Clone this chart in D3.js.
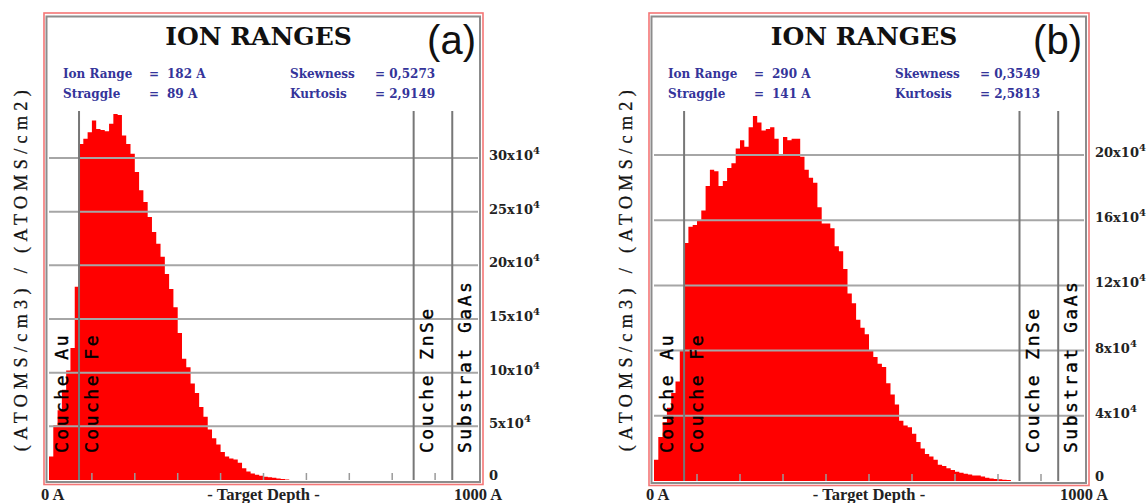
<!DOCTYPE html>
<html>
<head>
<meta charset="utf-8">
<script src="https://cdn.jsdelivr.net/npm/d3@7"></script>
<style>
  body { margin: 0; background: #fff; }
</style>
</head>
<body>
<div id="chart"></div>
<script>
// TRIM histogram bin width (Angstrom)
const binWidth = 10;

// ion distribution, one value per 10 A bin starting at 0 A, in units of 1e4 (atoms/cm3)/(atoms/cm2)
const rangeA = [
  2.2, 5.1, 6.5, 8.4, 10.2, 12.3, 18.0, 31.3, 31.8, 32.4,
  33.5, 32.7, 32.6, 32.5, 33.2, 34.1, 34.0, 32.1, 31.3, 30.4,
  28.7, 27.0, 25.9, 24.5, 23.1, 22.0, 20.8, 19.2, 17.8, 16.1,
  13.7, 11.3, 10.5, 9.0, 8.1, 6.8, 5.9, 4.7, 3.9, 3.3,
  2.6, 2.2, 2.0, 1.9, 1.6, 1.1, 0.8, 0.6, 0.5, 0.4,
  0.3, 0.25, 0.2, 0.15, 0.1, 0.05
];
const rangeB = [
  1.3, 2.7, 3.6, 4.5, 5.4, 6.1, 8.0, 14.6, 15.6, 15.7,
  16.0, 16.6, 18.1, 19.1, 19.0, 18.1, 18.4, 19.2, 19.5, 20.4,
  20.9, 20.5, 21.7, 22.4, 22.0, 21.5, 21.6, 21.7, 21.0, 20.0,
  21.1, 20.9, 21.0, 21.0, 19.9, 19.1, 18.6, 18.3, 16.8, 15.8,
  15.8, 15.5, 14.4, 14.1, 13.0, 11.5, 10.9, 9.9, 9.4, 9.0,
  8.0, 7.6, 7.2, 7.0, 6.0, 5.3, 4.7, 3.7, 3.4, 3.3,
  2.9, 2.4, 2.0, 1.66, 1.5, 1.3, 1.0, 0.92, 0.78, 0.67,
  0.57, 0.5, 0.45, 0.4, 0.33, 0.33, 0.27, 0.2, 0.16, 0.12,
  0.1, 0.08, 0.06
];

// y ticks (x10^4)
const ticksA = [0, 5, 10, 15, 20, 25, 30];
const ticksB = [0, 4, 8, 12, 16, 20];
const depthTicks = [100, 200, 300, 400, 500, 600, 700, 800, 900];

// layers of the target
const layerNames = ["Couche Au", "Couche Fe", "Couche ZnSe", "Substrat GaAs"];
const layerStarts = [0, 70, 850, 940];

const statLabels = ["Ion Range", "Straggle", "Skewness", "Kurtosis"];
const statsA = ["182 A", "89 A", "0,5273", "2,9149"];
const statsB = ["290 A", "141 A", "0,3549", "2,5813"];

const width = 1147, height = 503;
const svg = d3.select("#chart").append("svg")
    .attr("width", width)
    .attr("height", height);

svg.append("rect").attr("width", width).attr("height", height).attr("fill", "#fff");

const serifBold = "'DejaVu Serif', serif";
const statColor = "#34349a";

function drawPanel(p) {
    const g = svg.append("g");
    const x = d3.scaleLinear().domain([0, 1000]).range([p.x0, p.x1]);
    const y = d3.scaleLinear().domain([0, p.yTop]).range([p.yBase, p.yTopPx]);

    // frames
    g.append("rect")
        .attr("x", p.x0 - 5).attr("y", 13)
        .attr("width", p.x1 - p.x0 + 10).attr("height", p.yBase + 4.5 - 13)
        .attr("fill", "none").attr("stroke", "#f47676").attr("stroke-width", 1.6);
    g.append("rect")
        .attr("x", p.x0 - 2.5).attr("y", 16.5)
        .attr("width", p.x1 - p.x0 + 4.5).attr("height", p.yBase + 2 - 16.5)
        .attr("fill", "none").attr("stroke", "#8c8c8c").attr("stroke-width", 2);

    // histogram
    const pts = p.values.map((v, i) => ({d: i * binWidth, v: v}));
    pts.push({d: p.values.length * binWidth, v: 0});
    const area = d3.area()
        .x(d => x(d.d))
        .y0(y(0))
        .y1(d => y(d.v))
        .curve(d3.curveStepAfter);
    g.append("path").datum(pts).attr("d", area).attr("fill", "#ff0000");

    // horizontal grid
    g.selectAll(".grid").data(p.ticks.filter(t => t > 0)).join("line")
        .attr("x1", x(0)).attr("x2", x(1000))
        .attr("y1", d => y(d)).attr("y2", d => y(d))
        .attr("stroke", "#a6a6a6").attr("stroke-width", 2);

    // depth ticks
    g.selectAll(".dtick").data(depthTicks).join("line")
        .attr("x1", d => x(d)).attr("x2", d => x(d))
        .attr("y1", p.yBase).attr("y2", p.yBase - 7)
        .attr("stroke", "#9a9a9a").attr("stroke-width", 1.5);

    // layer boundaries
    g.selectAll(".layer").data(layerStarts.slice(1)).join("line")
        .attr("x1", d => x(d)).attr("x2", d => x(d))
        .attr("y1", 111).attr("y2", p.yBase)
        .attr("stroke", "#777").attr("stroke-width", 2);

    g.selectAll(".lname").data(layerNames).join("text")
        .attr("transform", (d, i) => `translate(${x(layerStarts[i]) + 19},453) rotate(-90)`)
        .attr("font-family", "'DejaVu Sans Mono', monospace")
        .attr("font-size", 18)
        .attr("letter-spacing", 2.5)
        .attr("stroke", "#000").attr("stroke-width", 0.4)
        .attr("fill", "#000")
        .text(d => d);

    // right axis labels
    const lab = g.selectAll(".ylab").data(p.ticks).join("text")
        .attr("x", p.x1 + 11)
        .attr("y", d => d === 0 ? p.yBase : y(d) + 2)
        .attr("font-family", serifBold).attr("font-weight", "bold")
        .attr("font-size", 13).attr("fill", "#222");
    lab.append("tspan").text(d => d === 0 ? "0" : d + "x10");
    lab.filter(d => d > 0).append("tspan")
        .attr("font-size", 10).attr("dy", -6).text("4");

    // bottom labels
    const bottom = g.append("g")
        .attr("font-family", "'Liberation Serif', serif")
        .attr("font-weight", "bold").attr("font-size", 16.5).attr("fill", "#222");
    bottom.append("text").attr("x", x(0) - 8).attr("y", 500).text("0 A");
    bottom.append("text").attr("x", (x(0) + x(1000)) / 2).attr("y", 500)
        .attr("text-anchor", "middle").text("- Target Depth -");
    bottom.append("text").attr("x", x(1000)).attr("y", 500)
        .attr("text-anchor", "middle").text("1000 A");

    // title and tag
    g.append("text")
        .attr("x", (x(0) + x(1000)) / 2 - 5).attr("y", 45)
        .attr("text-anchor", "middle")
        .attr("font-family", serifBold).attr("font-weight", "bold")
        .attr("font-size", 25).attr("fill", "#111")
        .text("ION RANGES");
    g.append("text")
        .attr("x", x(1000) - 2).attr("y", 54)
        .attr("text-anchor", "end")
        .attr("font-family", "'Liberation Sans', Arial, sans-serif")
        .attr("font-size", 40).attr("fill", "#111")
        .text(p.tag);

    // statistics
    const st = g.append("g")
        .attr("font-family", serifBold).attr("font-weight", "bold")
        .attr("font-size", 12).attr("fill", statColor);
    statLabels.forEach((s, i) => {
        const col = i < 2 ? 0 : 1;
        const row = i % 2;
        const yy = 78 + row * 20;
        st.append("text").attr("x", x(0) + (col ? 241 : 14)).attr("y", yy).text(s);
        if (col === 0) {
            st.append("text").attr("x", x(0) + 100).attr("y", yy).text("=");
            st.append("text").attr("x", x(0) + 118).attr("y", yy).text(p.stats[i]);
        } else {
            st.append("text").attr("x", x(0) + 326).attr("y", yy).text("= " + p.stats[i]);
        }
    });

    // left axis title
    g.append("text")
        .attr("transform", `translate(${x(0) - 22},268) rotate(-90)`)
        .attr("text-anchor", "middle")
        .attr("font-family", "'Liberation Serif', serif")
        .attr("font-size", 18).attr("letter-spacing", 5.4)
        .attr("stroke", "#111").attr("stroke-width", 0.3)
        .attr("fill", "#111")
        .text("(ATOMS/cm3) / (ATOMS/cm2)");
}

drawPanel({x0: 49, x1: 478, yBase: 480, yTop: 30, yTopPx: 158,
           values: rangeA, ticks: ticksA, stats: statsA, tag: "(a)"});
drawPanel({x0: 654, x1: 1084, yBase: 481, yTop: 20, yTopPx: 155,
           values: rangeB, ticks: ticksB, stats: statsB, tag: "(b)"});
</script>
</body>
</html>
